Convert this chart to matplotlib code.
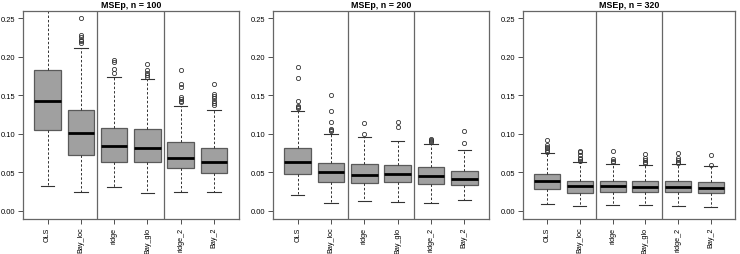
import matplotlib
matplotlib.use("Agg")
import matplotlib.pyplot as plt

plt.rcParams['font.family'] = ['Liberation Sans', 'DejaVu Sans']

methods = ["OLS", "Bay_loc", "ridge", "Bay_glo", "ridge_2", "Bay_2"]
titles = ["MSEp, n = 100", "MSEp, n = 200", "MSEp, n = 320"]

# n = 100
q1_100 = [0.105, 0.073, 0.064, 0.0635, 0.056, 0.049]
med_100 = [0.143, 0.1006, 0.084, 0.082, 0.069, 0.064]
q3_100 = [0.183, 0.131, 0.108, 0.1066, 0.089, 0.0816]
lo_100 = [0.032, 0.024, 0.031, 0.0233, 0.024, 0.024]
hi_100 = [0.275, 0.211, 0.174, 0.171, 0.1356, 0.131]
out_100 = [[],
           [0.218, 0.220, 0.222, 0.226, 0.228, 0.250],
           [0.179, 0.184, 0.1926, 0.195],
           [0.173, 0.176, 0.179, 0.182, 0.190],
           [0.141, 0.143, 0.145, 0.148, 0.160, 0.165, 0.183],
           [0.137, 0.140, 0.143, 0.146, 0.1485, 0.1515, 0.164]]

# n = 200
q1_200 = [0.0474, 0.037, 0.0358, 0.038, 0.0353, 0.0336]
med_200 = [0.0638, 0.0509, 0.0466, 0.0478, 0.0453, 0.0418]
q3_200 = [0.081, 0.0625, 0.0603, 0.060, 0.0565, 0.052]
lo_200 = [0.0203, 0.0108, 0.0129, 0.0116, 0.0103, 0.0142]
hi_200 = [0.1297, 0.100, 0.0961, 0.0905, 0.0866, 0.0793]
out_200 = [[0.1336, 0.1345, 0.1358, 0.1431, 0.1728, 0.1866],
           [0.104, 0.1055, 0.1065, 0.115, 0.1293, 0.150],
           [0.100, 0.1134],
           [0.109, 0.1147],
           [0.089, 0.0905, 0.092, 0.093],
           [0.0879, 0.1039]]

# n = 320
q1_320 = [0.0283, 0.0231, 0.024, 0.024, 0.024, 0.0231]
med_320 = [0.0383, 0.0318, 0.0318, 0.0315, 0.0305, 0.0296]
q3_320 = [0.0479, 0.039, 0.0383, 0.0383, 0.0383, 0.037]
lo_320 = [0.0096, 0.0065, 0.0074, 0.008, 0.0061, 0.0057]
hi_320 = [0.0753, 0.063, 0.061, 0.0597, 0.0605, 0.058]
out_320 = [[0.077, 0.079, 0.081, 0.083, 0.085, 0.0914],
           [0.065, 0.067, 0.069, 0.072, 0.076, 0.078],
           [0.063, 0.065, 0.067, 0.078],
           [0.062, 0.064, 0.066, 0.069, 0.074],
           [0.062, 0.064, 0.066, 0.068, 0.0753],
           [0.060, 0.0727]]

panels = [
    (q1_100, med_100, q3_100, lo_100, hi_100, out_100),
    (q1_200, med_200, q3_200, lo_200, hi_200, out_200),
    (q1_320, med_320, q3_320, lo_320, hi_320, out_320),
]

W, H = 740, 255
fig = plt.figure(figsize=(W / 100, H / 100), dpi=100)
lefts = [23, 273, 523]
rights = [238.5, 489, 735]
top_px, bot_px = 12.3, 220

frame_col = "#666666"
for k, (q1, med, q3, lo, hi, out) in enumerate(panels):
    ax = fig.add_axes([lefts[k] / W, (H - bot_px) / H,
                       (rights[k] - lefts[k]) / W, (bot_px - top_px) / H])
    stats = []
    for i in range(len(methods)):
        stats.append(dict(med=med[i], q1=q1[i], q3=q3[i], whislo=lo[i],
                          whishi=hi[i], fliers=out[i], label=methods[i]))
    ax.bxp(stats, positions=range(1, 7), widths=0.8, patch_artist=True,
           boxprops=dict(facecolor="#a0a0a0", edgecolor="#5a5a5a", linewidth=0.9),
           medianprops=dict(color="black", linewidth=2.0),
           whiskerprops=dict(color="#333333", linestyle=(0, (2.5, 2)), linewidth=0.7),
           capprops=dict(color="#333333", linewidth=0.8),
           capwidths=0.4,
           flierprops=dict(marker="o", markersize=3, markerfacecolor="none",
                           markeredgecolor="#333333", markeredgewidth=0.6))
    for xs in (2.5, 4.5):
        ax.axvline(xs, color=frame_col, linewidth=0.9)
    ax.set_xlim(0.26, 6.74)
    ax.set_ylim(-0.0104, 0.2587)
    ax.set_yticks([0.0, 0.05, 0.10, 0.15, 0.20, 0.25])
    ax.set_yticklabels(["0.00", "0.05", "0.10", "0.15", "0.20", "0.25"], fontsize=5.4)
    ax.set_xticks(range(1, 7))
    ax.set_xticklabels(methods, rotation=90, fontsize=5.2)
    ax.tick_params(axis="both", length=3.5, width=0.6, color="#333333", pad=2)
    for s in ax.spines.values():
        s.set_color(frame_col)
        s.set_linewidth(0.9)
    ax.set_title(titles[k], fontsize=6.4, fontweight="bold", pad=3)

fig.savefig("out.png", dpi=100)
